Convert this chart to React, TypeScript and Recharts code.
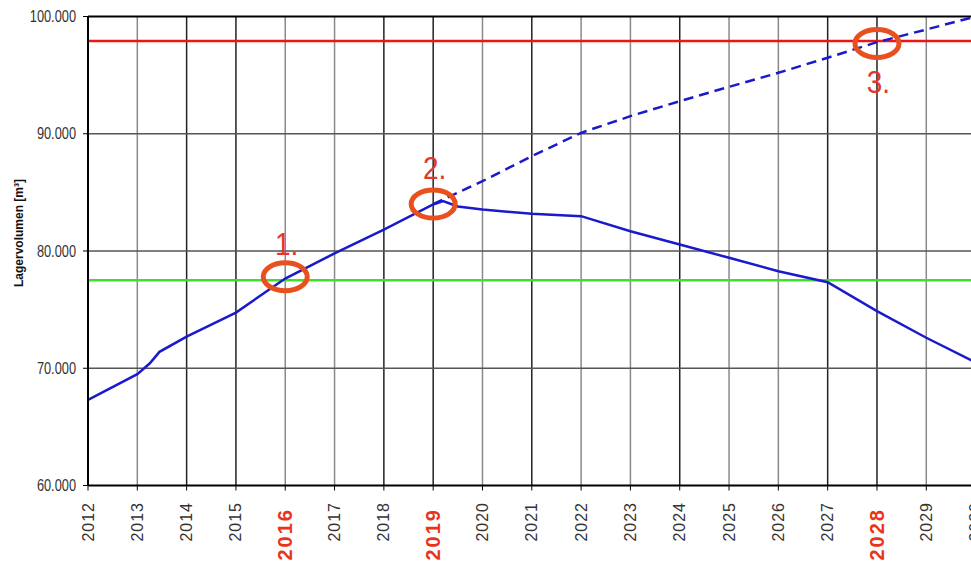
import { LineChart, Line, XAxis, YAxis, ReferenceLine, ReferenceDot } from "recharts";

const YEARS = [
  2012, 2013, 2014, 2015, 2016, 2017, 2018, 2019, 2020, 2021,
  2022, 2023, 2024, 2025, 2026, 2027, 2028, 2029, 2030,
];
const HIGHLIGHT_YEARS = [2016, 2019, 2028];
const DARK_GRID_YEARS = [2014, 2015, 2018, 2019, 2021, 2024, 2027, 2028];
const VOLUME_TICKS = [60000, 70000, 80000, 90000, 100000];

// Lagervolumen (solid line)
const STOCK_YEARS = [
  2012, 2013, 2013.25, 2013.45, 2014, 2015, 2016, 2017, 2018, 2019, 2019.2,
  2019.5, 2020, 2021, 2022, 2023, 2024, 2025, 2026, 2027, 2028, 2029, 2030,
];
const STOCK_VALUES = [
  67300, 69500, 70400, 71400, 72700, 74750, 77650, 79800, 81830, 83970, 84250,
  83800, 83540, 83170, 82970, 81690, 80560, 79420, 78280, 77340, 74870, 72600, 70500,
];

// Prognose ohne Massnahmen (dashed line)
const FORECAST_YEARS = [2019, 2020, 2021, 2022, 2023, 2024, 2025, 2026, 2027, 2028, 2029, 2030];
const FORECAST_VALUES = [84000, 85960, 88090, 90080, 91500, 92780, 94000, 95200, 96480, 97810, 98890, 100000];

const UPPER_LIMIT = 97900;
const LOWER_LIMIT = 77500;

const MARK_LABELS = ["1.", "2.", "3."];
const MARK_YEARS = [2016, 2019, 2028];
const MARK_VALUES = [77800, 84000, 97700];

const stockData = STOCK_YEARS.map((year, i) => ({ year, value: STOCK_VALUES[i] }));
const forecastData = FORECAST_YEARS.map((year, i) => ({ year, value: FORECAST_VALUES[i] }));

const SANS = '"Liberation Sans", Arial, sans-serif';
const BLUE = "#1a1acc";

const formatVolume = (v: number) =>
  `${Math.floor(v / 1000)}.${String(v % 1000).padStart(3, "0")}`;

function YearTick(props: any) {
  const { x, y, payload } = props;
  const hl = HIGHLIGHT_YEARS.includes(payload.value);
  const ty = y + (hl ? 15.5 : 9.5);
  return (
    <text
      x={x}
      y={ty}
      transform={`rotate(-90 ${x} ${ty})`}
      textAnchor="end"
      dominantBaseline="central"
      fontFamily={SANS}
      fontSize={hl ? 20 : 16}
      fontWeight={hl ? 700 : 400}
      letterSpacing={hl ? 2 : 1}
      fill={hl ? "#e8341c" : "#333"}
    >
      {payload.value}
    </text>
  );
}

// condensed look of the original labels
function VolumeTick(props: any) {
  const { x, y, payload } = props;
  return (
    <text
      transform={`translate(${x} ${y}) scale(0.8 1)`}
      textAnchor="end"
      dominantBaseline="central"
      fontFamily={SANS}
      fontSize={16}
      fill="#333"
    >
      {formatVolume(payload.value)}
    </text>
  );
}

function AxisTitle(props: any) {
  const { viewBox } = props;
  const x = viewBox.x + 19;
  const y = viewBox.y + viewBox.height / 2 - 18;
  return (
    <text
      x={x}
      y={y}
      transform={`rotate(-90 ${x} ${y})`}
      textAnchor="middle"
      dominantBaseline="central"
      fontFamily={SANS}
      fontSize={12}
      fontWeight={700}
      fill="#111"
    >
      Lagervolumen [m³]
    </text>
  );
}

// label offset from ellipse centre: above for 1 and 2, below for 3
const MARK_LABEL_DY = [-22, -25, 50];

function MarkShape(props: any) {
  const { cx, cy, text, dy } = props;
  return (
    <g>
      <ellipse cx={cx} cy={cy} rx={22} ry={14} fill="none" stroke="#e8501e" strokeWidth={5} />
      <text
        transform={`translate(${cx + 1.5} ${cy + dy}) scale(0.9 1)`}
        textAnchor="middle"
        fontFamily={SANS}
        fontSize={31}
        fill="#e0382a"
      >
        {text}
      </text>
    </g>
  );
}

export default function App() {
  return (
    <div
      style={{
        position: "fixed",
        left: 0,
        top: 0,
        width: 971,
        height: 561,
        overflow: "hidden",
        background: "#fff",
      }}
    >
      <LineChart
        width={1000}
        height={561}
        margin={{ top: 16.5, right: 24.4, bottom: 0, left: 0 }}
      >
        <XAxis
          dataKey="year"
          type="number"
          domain={[2012, 2030]}
          ticks={YEARS}
          interval={0}
          allowDataOverflow
          height={75.5}
          tickSize={5}
          tick={<YearTick />}
          axisLine={{ stroke: "#000", strokeWidth: 2 }}
          tickLine={{ stroke: "#000" }}
        />
        <YAxis
          type="number"
          domain={[60000, 100000]}
          ticks={VOLUME_TICKS}
          allowDataOverflow
          width={88}
          tickSize={5}
          tickMargin={7}
          tick={<VolumeTick />}
          axisLine={{ stroke: "#000", strokeWidth: 2 }}
          tickLine={{ stroke: "#000" }}
          label={<AxisTitle />}
        />
        {YEARS.slice(1).map((year) => (
          <ReferenceLine
            key={year}
            x={year}
            stroke={DARK_GRID_YEARS.includes(year) ? "#222" : "#8a8a8a"}
            strokeWidth={1.5}
          />
        ))}
        {VOLUME_TICKS.slice(1, -1).map((v) => (
          <ReferenceLine key={v} y={v} stroke="#555" strokeWidth={1.5} />
        ))}
        <ReferenceLine y={100000} stroke="#000" strokeWidth={2} />
        <ReferenceLine y={UPPER_LIMIT} stroke="#ee1515" strokeWidth={2.5} />
        <ReferenceLine y={LOWER_LIMIT} stroke="#3ee02a" strokeWidth={2.5} />
        <Line
          data={forecastData}
          dataKey="value"
          type="linear"
          stroke={BLUE}
          strokeWidth={2.5}
          strokeDasharray="10 6"
          dot={false}
          isAnimationActive={false}
        />
        <Line
          data={stockData}
          dataKey="value"
          type="linear"
          stroke={BLUE}
          strokeWidth={2.5}
          dot={false}
          isAnimationActive={false}
        />
        {MARK_LABELS.map((text, i) => (
          <ReferenceDot
            key={text}
            x={MARK_YEARS[i]}
            y={MARK_VALUES[i]}
            r={20}
            shape={(p: any) => <MarkShape {...p} text={text} dy={MARK_LABEL_DY[i]} />}
          />
        ))}
      </LineChart>
    </div>
  );
}
